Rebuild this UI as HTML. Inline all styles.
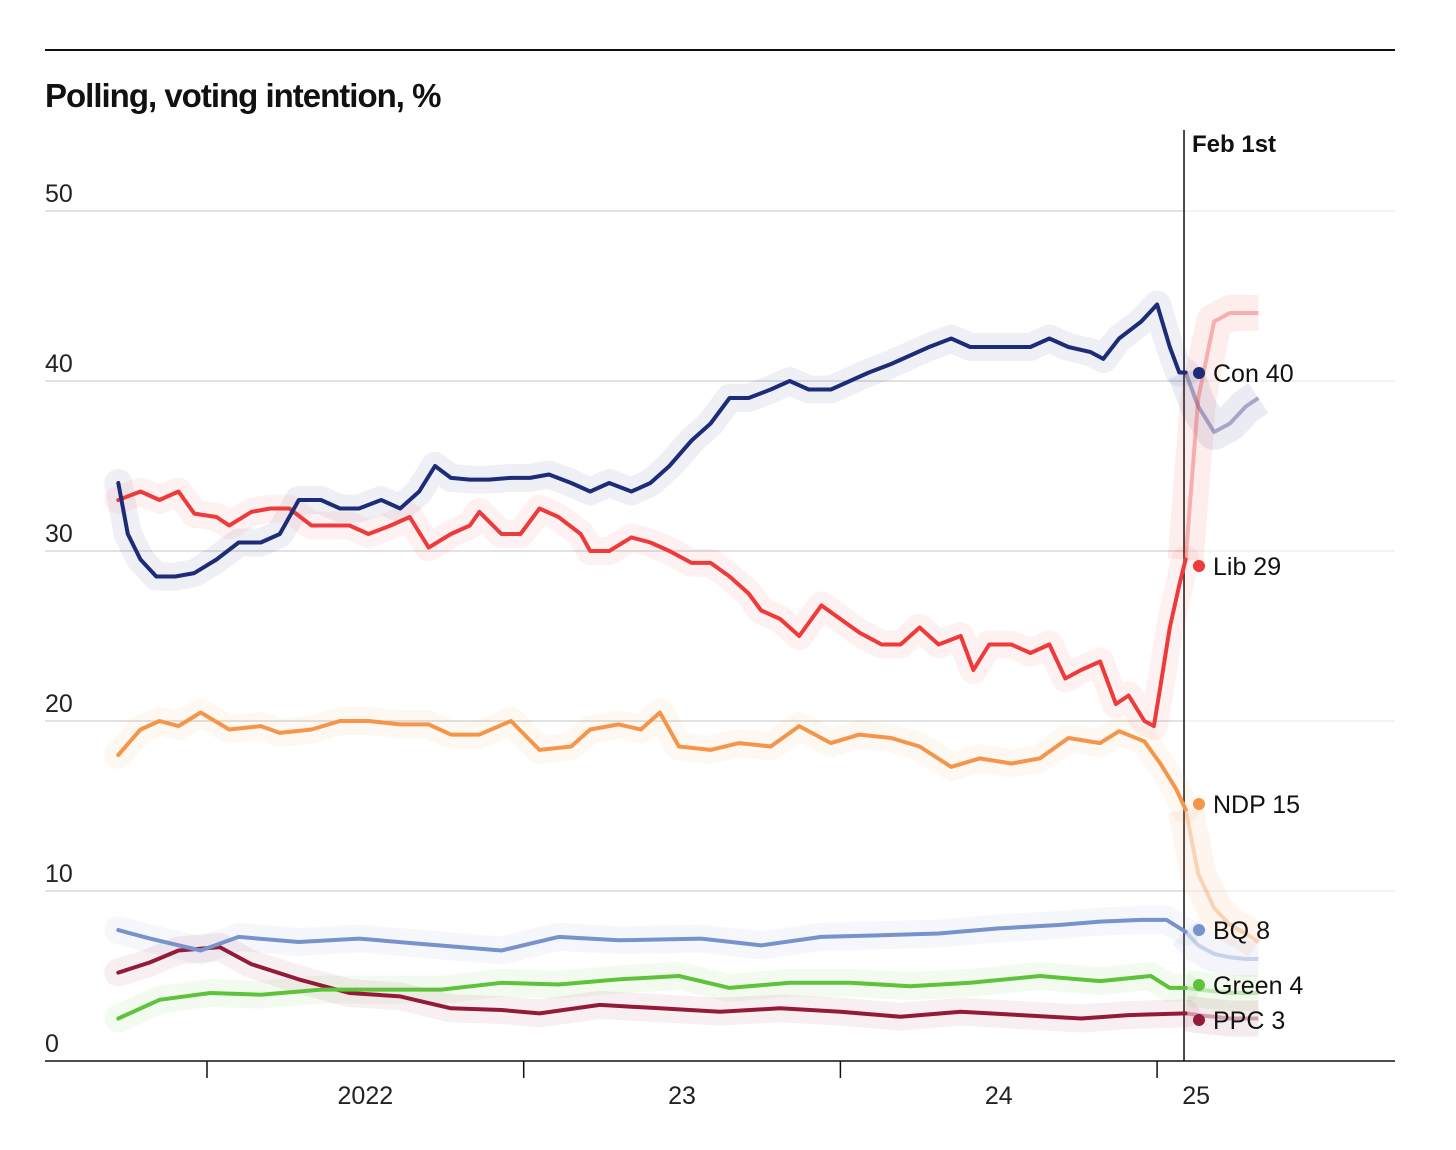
<!DOCTYPE html>
<html><head><meta charset="utf-8">
<style>
html,body{margin:0;padding:0;background:#fff;}
body{width:1456px;height:1145px;overflow:hidden;font-family:"Liberation Sans",sans-serif;}
svg text{font-family:"Liberation Sans",sans-serif;}
</style></head>
<body>
<svg id="chart" width="1456" height="1145" xmlns="http://www.w3.org/2000/svg">
<line x1="45" x2="1395" y1="50" y2="50" stroke="#111" stroke-width="2"/>
<text x="45" y="107" font-size="33" font-weight="bold" fill="#111" letter-spacing="-1">Polling, voting intention, %</text>
<g id="grid"></g>
<g id="bands"></g>
<g id="lines"></g>
<g id="labels"></g>
</svg>
<script>
const yTicks=[0,10,20,30,40,50];
const xTickYears=[2022,2023,2024,2025];
const xTickLabels=["2022","23","24","25"];
const feb1=2025.085;
const names=["Con","Lib","NDP","BQ","Green","PPC"];
const finals=[40,29,15,8,4,3];
const colors=["#1c2c78","#ee3a3a","#f4954a","#7892cc","#5cc33a","#941a3a"];

const conT=[2021.72,2021.75,2021.79,2021.84,2021.90,2021.96,2022.03,2022.10,2022.17,2022.23,2022.29,2022.36,2022.42,2022.48,2022.55,2022.61,2022.67,2022.72,2022.77,2022.83,2022.89,2022.96,2023.02,2023.08,2023.15,2023.21,2023.27,2023.34,2023.40,2023.46,2023.53,2023.59,2023.65,2023.71,2023.78,2023.84,2023.90,2023.97,2024.03,2024.09,2024.16,2024.22,2024.28,2024.35,2024.41,2024.47,2024.54,2024.60,2024.66,2024.72,2024.79,2024.83,2024.88,2024.95,2025.00,2025.04,2025.07,2025.09];
const conV=[34,31,29.5,28.5,28.5,28.7,29.5,30.5,30.5,31,33,33,32.5,32.5,33,32.5,33.5,35,34.3,34.2,34.2,34.3,34.3,34.5,34,33.5,34,33.5,34,35,36.5,37.5,39,39,39.5,40,39.5,39.5,40,40.5,41,41.5,42,42.5,42,42,42,42,42.5,42,41.7,41.3,42.5,43.5,44.5,42,40.5,40.5];
const libT=[2021.72,2021.79,2021.85,2021.91,2021.96,2022.03,2022.07,2022.14,2022.20,2022.26,2022.33,2022.39,2022.45,2022.51,2022.58,2022.64,2022.70,2022.77,2022.83,2022.86,2022.93,2022.99,2023.05,2023.11,2023.18,2023.21,2023.27,2023.34,2023.40,2023.46,2023.53,2023.59,2023.65,2023.71,2023.75,2023.81,2023.87,2023.94,2024.00,2024.06,2024.13,2024.19,2024.25,2024.31,2024.38,2024.42,2024.47,2024.54,2024.60,2024.66,2024.71,2024.76,2024.82,2024.87,2024.91,2024.96,2024.99,2025.01,2025.04,2025.07,2025.09];
const libV=[33,33.5,33,33.5,32.2,32,31.5,32.3,32.5,32.5,31.5,31.5,31.5,31,31.5,32,30.2,31,31.5,32.3,31,31,32.5,32,31,30,30,30.8,30.5,30,29.3,29.3,28.5,27.5,26.5,26,25,26.8,26,25.2,24.5,24.5,25.5,24.5,25,23,24.5,24.5,24,24.5,22.5,23,23.5,21,21.5,20,19.7,22,25.5,28,29.5];
const ndpT=[2021.72,2021.79,2021.85,2021.91,2021.98,2022.07,2022.17,2022.23,2022.33,2022.42,2022.51,2022.61,2022.70,2022.77,2022.86,2022.96,2023.05,2023.15,2023.21,2023.30,2023.37,2023.43,2023.49,2023.59,2023.68,2023.78,2023.87,2023.97,2024.06,2024.16,2024.25,2024.35,2024.44,2024.54,2024.63,2024.72,2024.82,2024.88,2024.96,2025.01,2025.06,2025.09];
const ndpV=[18,19.5,20,19.7,20.5,19.5,19.7,19.3,19.5,20,20,19.8,19.8,19.2,19.2,20,18.3,18.5,19.5,19.8,19.5,20.5,18.5,18.3,18.7,18.5,19.7,18.7,19.2,19,18.5,17.3,17.8,17.5,17.8,19,18.7,19.4,18.8,17.5,16,14.8];
const bqT=[2021.72,2021.82,2021.98,2022.10,2022.29,2022.48,2022.67,2022.93,2023.11,2023.30,2023.56,2023.75,2023.94,2024.13,2024.31,2024.50,2024.69,2024.82,2024.95,2025.03,2025.09];
const bqV=[7.7,7.2,6.5,7.3,7,7.2,6.9,6.5,7.3,7.1,7.2,6.8,7.3,7.4,7.5,7.8,8,8.2,8.3,8.3,7.6];
const greenT=[2021.72,2021.85,2022.01,2022.17,2022.36,2022.55,2022.74,2022.93,2023.11,2023.30,2023.49,2023.65,2023.84,2024.03,2024.22,2024.41,2024.63,2024.82,2024.98,2025.04,2025.09];
const greenV=[2.5,3.6,4,3.9,4.2,4.2,4.2,4.6,4.5,4.8,5,4.3,4.6,4.6,4.4,4.6,5,4.7,5,4.3,4.3];
const ppcT=[2021.72,2021.82,2021.91,2022.04,2022.14,2022.29,2022.45,2022.61,2022.77,2022.93,2023.05,2023.24,2023.43,2023.62,2023.81,2024.00,2024.19,2024.38,2024.57,2024.76,2024.91,2025.09];
const ppcV=[5.2,5.8,6.5,6.7,5.7,4.8,4,3.8,3.1,3,2.8,3.3,3.1,2.9,3.1,2.9,2.6,2.9,2.7,2.5,2.7,2.8];
const afterT=[2025.09,2025.13,2025.18,2025.23,2025.28,2025.32];
const conAfter=[40.5,38.5,37,37.5,38.5,39];
const libAfter=[29.5,39,43.5,44,44,44];
const ndpAfter=[14.8,11,9,8,7.5,7];
const bqAfter=[7.6,6.8,6.3,6.1,6,6];
const greenAfter=[4.3,4.2,4.1,4,4,4];
const ppcAfter=[2.8,2.7,2.6,2.5,2.5,2.5];

const X0=207,PXY=316.7,Y0=1061,PYU=17;
const xs=t=>X0+(t-2022)*PXY;
const ys=v=>Y0-v*PYU;
const NS="http://www.w3.org/2000/svg";
function mk(tag,attrs,parent){const e=document.createElementNS(NS,tag);for(const k in attrs)e.setAttribute(k,attrs[k]);parent.appendChild(e);return e;}
const grid=document.getElementById('grid'),lines=document.getElementById('lines'),labels=document.getElementById('labels'),bands=document.getElementById('bands');

yTicks.forEach(v=>{
  if(v>0){
    const g=mk('line',{x1:45,x2:xs(feb1),y1:ys(v),y2:ys(v),stroke:'#d0d0d0','stroke-width':1.2},grid);
    
    
    const g2=mk('line',{x1:xs(feb1),x2:1395,y1:ys(v),y2:ys(v),stroke:'#ececec','stroke-width':1.2},grid);
    
    
  }
  const t=mk('text',{x:45,y:ys(v)-9,'font-size':25,fill:'#222'},grid);
  t.textContent=v;
  
  
});
const ax=mk('line',{x1:45,x2:1395,y1:Y0,y2:Y0,stroke:'#111','stroke-width':1.5},grid);


xTickYears.forEach((yr,i)=>{
  const tk=mk('line',{x1:xs(yr),x2:xs(yr),y1:Y0,y2:Y0+17,stroke:'#111','stroke-width':1.5},grid);
  
  
  const cx=i<3?xs(yr+0.5):xs(yr)+39;
  const lt=mk('text',{x:cx,y:1104,'font-size':25,fill:'#222','text-anchor':'middle'},grid);
  lt.textContent=xTickLabels[i];
  
  
});
const vl=mk('line',{x1:xs(feb1),x2:xs(feb1),y1:130,y2:Y0,stroke:'#111','stroke-width':1.5},grid);


const fl=mk('text',{x:xs(feb1)+8,y:152,'font-size':24,fill:'#111','font-weight':'bold'},grid);
fl.textContent='Feb 1st';



const series=[[conT,conV,conAfter],[libT,libV,libAfter],[ndpT,ndpV,ndpAfter],[bqT,bqV,bqAfter],[greenT,greenV,greenAfter],[ppcT,ppcV,ppcAfter]];
const path=(T,V)=>T.map((t,i)=>(i?'L':'M')+xs(t).toFixed(1)+','+ys(V[i]).toFixed(1)).join(' ');
series.forEach((s,i)=>{
  const [T,V,A]=s;
  const b=mk('path',{d:path(T,V),fill:'none',stroke:colors[i],'stroke-opacity':0.07,'stroke-width':28,'stroke-linejoin':'round','stroke-linecap':'round'},bands);
  
  
  const fb=mk('path',{d:path(afterT,A),fill:'none',stroke:colors[i],'stroke-opacity':0.09,'stroke-width':36,'stroke-linejoin':'round'},bands);
  
  
  const fa=mk('path',{d:path(afterT,A),fill:'none',stroke:colors[i],'stroke-opacity':0.35,'stroke-width':4,'stroke-linejoin':'round'},lines);
  
  
});
series.slice().reverse().forEach((s,ri)=>{
  const i=series.length-1-ri;
  const [T,V]=s;
  const p=mk('path',{d:path(T,V),fill:'none',stroke:colors[i],'stroke-width':4,'stroke-linejoin':'round','stroke-linecap':'round'},lines);
  
  
});
const labelY=[373,566,804,930,985,1020];
names.forEach((n,i)=>{
  const c=mk('circle',{cx:1199,cy:labelY[i],r:6,fill:colors[i]},labels);
  
  
  const t=mk('text',{x:1213,y:labelY[i]+9,'font-size':25,fill:'#111'},labels);
  t.textContent=n+' '+finals[i];
  
  
});
</script>
</body></html>
